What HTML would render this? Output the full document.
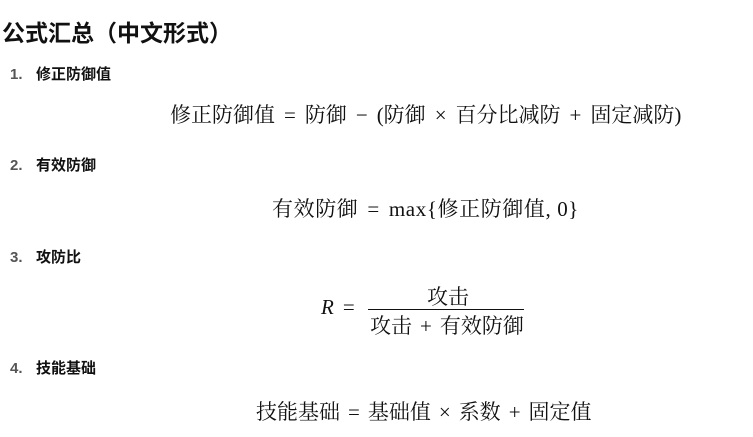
<!DOCTYPE html>
<html><head><meta charset="utf-8"><style>
body{margin:0;width:753px;height:437px;background:#fff;position:relative;overflow:hidden;color:#111}
.t{position:absolute;left:2px;top:14px;font:bold 23px "Liberation Sans","Noto Sans CJK SC",sans-serif;white-space:nowrap}
.h{position:absolute;left:10px;font:bold 15px "Liberation Sans","Noto Sans CJK SC",sans-serif;white-space:nowrap}
.h b{color:#555;display:inline-block;width:26px}
.f{position:absolute;white-space:nowrap;font:21px "Liberation Serif","Noto Serif CJK SC",serif}
.o{margin:0 9px}
.p{margin:0 8px}
</style></head><body>
<div class="t">公式汇总（中文形式）</div>
<div class="h" style="top:63px"><b>1.</b>修正防御值</div>
<div class="f" style="top:99px;left:170px">修正防御值<span class="o">=</span>防御<span class="o">−</span>(防御<span class="o">×</span>百分比减防<span class="o">+</span>固定减防)</div>
<div class="h" style="top:154px"><b>2.</b>有效防御</div>
<div class="f" style="top:193px;left:272px;letter-spacing:0.6px">有效防御<span class="o">=</span>max{修正防御值,&nbsp;0}</div>
<div class="h" style="top:246px"><b>3.</b>攻防比</div>
<div class="f" style="top:295px;left:321px"><i>R</i><span class="o">=</span></div>
<div style="position:absolute;left:368px;top:309px;width:156px;height:1px;background:#111"></div>
<div class="f" style="top:281px;left:427px">攻击</div>
<div class="f" style="top:310px;left:370px">攻击<span class="p">+</span>有效防御</div>
<div class="h" style="top:357px"><b>4.</b>技能基础</div>
<div class="f" style="top:396px;left:256px">技能基础<span class="p">=</span>基础值<span class="p">×</span>系数<span class="p">+</span>固定值</div>
</body></html>
